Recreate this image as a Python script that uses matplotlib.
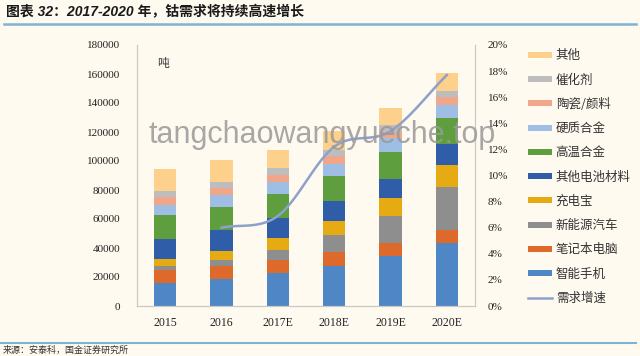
import matplotlib
matplotlib.use("Agg")
import matplotlib.pyplot as plt
import numpy as np

years = ["2015", "2016", "2017E", "2018E", "2019E", "2020E"]
series_names = ["智能手机", "笔记本电脑", "新能源汽车", "充电宝", "其他电池材料",
                "高温合金", "硬质合金", "陶瓷/颜料", "催化剂", "其他"]
phone = [16000, 18400, 22500, 27800, 34500, 43200]
laptop = [8800, 9200, 9200, 9700, 9200, 9200]
ev = [2800, 4100, 6900, 11500, 18400, 29900]
powerbank = [5000, 6400, 8000, 9700, 12200, 15000]
other_battery = [13800, 14300, 13800, 13800, 13300, 14300]
superalloy = [16100, 16100, 16800, 17200, 18400, 18300]
hard_alloy = [6900, 8000, 8500, 8500, 9700, 8800]
ceramic = [5700, 5000, 4600, 5000, 4500, 5300]
catalyst = [4100, 4100, 5000, 4200, 4600, 4300]
other = [15000, 15300, 12200, 13400, 11500, 12600]
growth_years = ["2016", "2017E", "2018E", "2019E", "2020E"]
growth = [6.0, 6.9, 12.2, 13.4, 17.7]  # %

COLORS = ["#4F86C6", "#DD6A2B", "#8E8E8E", "#E6AA12", "#2F5DA8",
          "#5E9E3E", "#9EBFE3", "#F0A68A", "#BDBDBD", "#FDD08B"]
LINE_C = "#8EA1C9"
BG = "#FFFAF0"
CJK = ["Noto Sans CJK SC", "DejaVu Sans"]
SERIF = ["Liberation Serif", "Noto Sans CJK SC"]


def smooth(x, y, n=30):
    # cardinal spline through the points, roughly like Excel's smoothed line
    x = np.asarray(x, float); y = np.asarray(y, float)
    mx = np.gradient(y, x)
    xs, ys = [], []
    for i in range(len(x) - 1):
        t = np.linspace(0, 1, n)
        h = x[i + 1] - x[i]
        h00 = 2 * t**3 - 3 * t**2 + 1; h10 = t**3 - 2 * t**2 + t
        h01 = -2 * t**3 + 3 * t**2; h11 = t**3 - t**2
        xs.append(x[i] + t * h)
        ys.append(h00 * y[i] + h10 * h * mx[i] + h01 * y[i + 1] + h11 * h * mx[i + 1])
    return np.concatenate(xs), np.concatenate(ys)


fig = plt.figure(figsize=(6.4, 3.56), dpi=100, facecolor=BG)
ax = fig.add_axes([137 / 640, 1 - 306 / 356, 338 / 640, 261 / 356], facecolor=BG)

stack = [phone, laptop, ev, powerbank, other_battery, superalloy, hard_alloy, ceramic, catalyst, other]
x = np.arange(len(years))
bottom = np.zeros(len(years))
bars = []
for name, vals, col in zip(series_names, stack, COLORS):
    b = ax.bar(x, vals, 0.4, bottom=bottom, color=col, label=name, linewidth=0)
    bars.append(b)
    bottom += np.array(vals)

ax.set_xlim(-0.5, len(years) - 0.5)
ax.set_ylim(0, 180000)
ax.set_yticks(np.arange(0, 180001, 20000))
ax.set_xticks(x)
ax.set_xticklabels(years, family=SERIF, fontsize=8.5)
ax.set_yticklabels([f"{v:d}" for v in range(0, 180001, 20000)], family=SERIF, fontsize=8)
ax.tick_params(length=0, pad=8, colors="#222222")
ax.tick_params(axis="y", pad=12)
ax.spines["top"].set_visible(False)
for s in ["left", "bottom", "right"]:
    ax.spines[s].set_color("#C8C8C8"); ax.spines[s].set_linewidth(0.8)
ax.text(0.06, 0.915, "吨", transform=ax.transAxes, family=CJK, fontsize=8.5, color="#333333")

ax2 = ax.twinx()
ax2.set_ylim(0, 20)
ax2.set_yticks(np.arange(0, 21, 2))
ax2.set_yticklabels([f"{v}%" for v in range(0, 21, 2)], family=SERIF, fontsize=8)
ax2.tick_params(length=0, pad=9, colors="#222222")
ax2.spines["top"].set_visible(False)
for s in ["left", "bottom", "right"]:
    ax2.spines[s].set_color("#C8C8C8"); ax2.spines[s].set_linewidth(0.8)
gx = [years.index(g) for g in growth_years]
sx, sy = smooth(gx, growth)
line, = ax2.plot(sx, sy, color=LINE_C, lw=1.8, label="需求增速")

handles = bars[::-1] + [line]
labels = series_names[::-1] + ["需求增速"]
leg = fig.legend(handles, labels, loc="upper left", bbox_to_anchor=(522 / 640, 1 - 43 / 356),
                 frameon=False, prop={"family": CJK, "size": 9}, handlelength=1.9,
                 handleheight=0.35, handletextpad=0.3, labelspacing=0.9, borderpad=0)
for t in leg.get_texts():
    t.set_color("#333333")

# watermark
fig.text(322 / 640, 1 - 135 / 356, "tangchaowangyueche.top", ha="center", va="center",
         family="Liberation Sans", fontsize=22, color="#999999", alpha=0.85)

# title and frame lines
fig.text(6 / 640, 1 - 12 / 356, "图表 32：2017-2020 年，钴需求将持续高速增长",
         family=["Liberation Sans", "Noto Sans CJK SC"], fontsize=10, fontweight="bold",
         style="italic", color="#1A1A1A", va="center")
fig.add_artist(plt.Line2D([4 / 640, 636 / 640], [1 - 24 / 356] * 2, color="#7DB3D3", lw=1.8))
fig.add_artist(plt.Line2D([0, 636 / 640], [1 - 343 / 356] * 2, color="#7DB3D3", lw=1.5))
fig.text(3 / 640, 1 - 350 / 356, "来源：安泰科，国金证券研究所", family=CJK, fontsize=6.5,
         color="#333333", va="center")

fig.savefig("out.png", dpi=100, facecolor=BG)
